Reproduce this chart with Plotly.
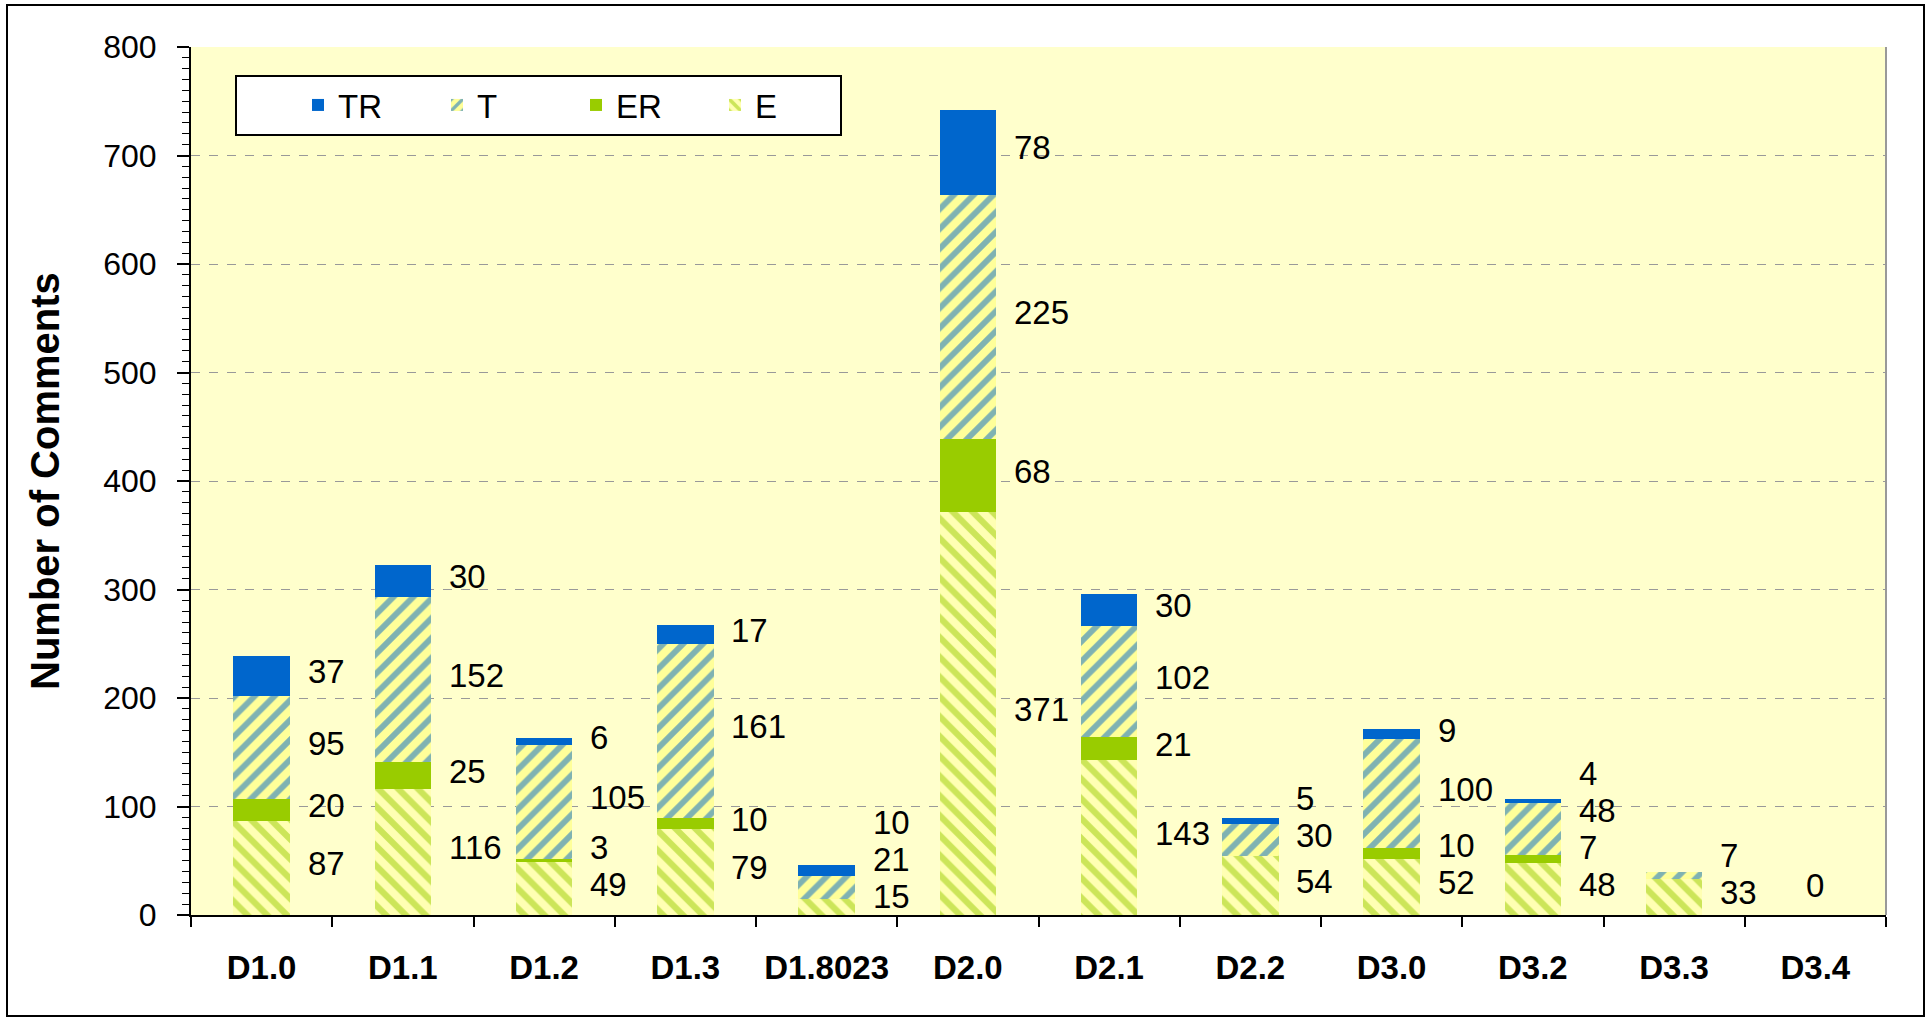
import plotly.graph_objects as go

categories = ["D1.0", "D1.1", "D1.2", "D1.3", "D1.8023", "D2.0", "D2.1", "D2.2", "D3.0", "D3.2", "D3.3", "D3.4"]
E_vals  = [87, 116, 49, 79, 15, 371, 143, 54, 52, 48, 33, 0]
ER_vals = [20, 25, 3, 10, 0, 68, 21, 0, 10, 7, 0, 0]
T_vals  = [95, 152, 105, 161, 21, 225, 102, 30, 100, 48, 7, 0]
TR_vals = [37, 30, 6, 17, 10, 78, 30, 5, 9, 4, 0, 0]
y_ticks = [0, 100, 200, 300, 400, 500, 600, 700, 800]

W, H = 1931, 1018
ML, MR, MT, MB = 191, 45, 47, 103
PW = W - ML - MR
PH = H - MT - MB

BLUE = "#0066CC"
GREEN = "#99CC00"
PLOT_BG = "#FFFFCC"
FONT = "Liberation Sans, Arial, sans-serif"


def px_x(p):
    return (p - ML) / PW


def px_y(p):
    return (MT + PH - p) / PH


fig = go.Figure()
fig.add_trace(go.Bar(
    name="E", x=categories, y=E_vals,
    marker=dict(color=GREEN, line=dict(width=0),
                pattern=dict(shape="\\", fgcolor=GREEN, bgcolor="#FFFFB3", size=14, solidity=0.45)),
))
fig.add_trace(go.Bar(
    name="ER", x=categories, y=ER_vals,
    marker=dict(color=GREEN, line=dict(width=0)),
))
fig.add_trace(go.Bar(
    name="T", x=categories, y=T_vals,
    marker=dict(color=BLUE, line=dict(width=0),
                pattern=dict(shape="/", fgcolor=BLUE, bgcolor="#FFFF99", size=14, solidity=0.42)),
))
fig.add_trace(go.Bar(
    name="TR", x=categories, y=TR_vals,
    marker=dict(color=BLUE, line=dict(width=0)),
))

# value labels to the right of each bar, at segment middles, pushed apart
annotations = []
GAP = 34
BOTTOM = 17
SHIFT = 4
for i, c in enumerate(categories):
    segs = [E_vals[i], ER_vals[i], T_vals[i], TR_vals[i]]
    total = sum(segs)
    if total == 0:
        annotations.append(dict(x=c, y=BOTTOM + 10, text="0", xref="x", yref="y", showarrow=False,
                                xanchor="center", yanchor="middle",
                                font=dict(family=FONT, size=33, color="black")))
        continue
    base = 0
    prev = None
    for v in segs:
        if v > 0:
            mid = base + v / 2 + SHIFT
            y = max(mid, BOTTOM)
            if prev is not None:
                y = max(y, prev + GAP)
            prev = y
            annotations.append(dict(x=c, y=y, text=str(v), xref="x", yref="y", showarrow=False,
                                    xanchor="left", yanchor="middle", xshift=44,
                                    font=dict(family=FONT, size=33, color="black")))
        base += v

# y axis title
annotations.append(dict(x=px_x(45), y=0.5, xref="paper", yref="paper", text="<b>Number of Comments</b>",
                        textangle=-90, showarrow=False, xanchor="center", yanchor="middle",
                        font=dict(family=FONT, size=40, color="black")))

shapes = [
    dict(type="line", xref="paper", yref="paper", x0=1, x1=1, y0=0, y1=1,
         line=dict(color="#999999", width=2)),
    dict(type="rect", xref="paper", yref="paper",
         x0=px_x(7), x1=px_x(1924), y0=px_y(1016), y1=px_y(5),
         line=dict(color="black", width=2), fillcolor="rgba(0,0,0,0)"),
    # legend frame
    dict(type="rect", xref="paper", yref="paper", layer="above",
         x0=px_x(236), x1=px_x(841), y0=px_y(135), y1=px_y(76),
         line=dict(color="black", width=2), fillcolor="white"),
]

fig.update_layout(
    width=W, height=H,
    margin=dict(l=ML, r=MR, t=MT, b=MB, pad=0),
    paper_bgcolor="white",
    plot_bgcolor=PLOT_BG,
    barmode="stack",
    bargap=0.6,
    font=dict(family=FONT, color="black"),
    showlegend=True,
    legend=dict(
        orientation="h", traceorder="reversed",
        x=px_x(298), y=px_y(105), xanchor="left", yanchor="middle",
        bgcolor="rgba(0,0,0,0)", borderwidth=0,
        font=dict(family=FONT, size=33, color="black"),
        entrywidth=94, itemsizing="constant",
    ),
    annotations=annotations,
    shapes=shapes,
    xaxis=dict(
        type="category",
        showline=True, linecolor="black", linewidth=2,
        ticks="outside", ticklen=10, tickcolor="black", tickwidth=1.5,
        tickson="boundaries",
        tickfont=dict(family=FONT, size=33, color="black", weight="bold"),
        ticklabelstandoff=22,
        showgrid=False,
    ),
    yaxis=dict(
        range=[0, 800],
        tickvals=y_ticks,
        showline=True, linecolor="black", linewidth=2,
        ticks="outside", ticklen=12, tickcolor="black", tickwidth=1.5,
        minor=dict(dtick=10, ticks="outside", ticklen=7, tickcolor="black", tickwidth=1, showgrid=False),
        showgrid=True, gridcolor="#999999", gridwidth=1.2, griddash="dash",
        zeroline=False,
        tickfont=dict(family=FONT, size=32, color="black"),
        ticklabelstandoff=14,
    ),
)

fig.write_html("out.html", config={"displayModeBar": False},
               post_script="document.body.style.margin='0';document.documentElement.style.overflow='hidden';")
